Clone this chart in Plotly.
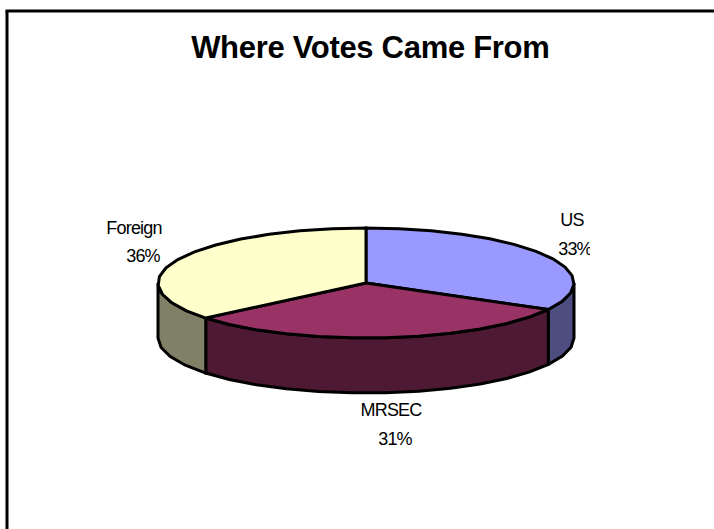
import math
import plotly.graph_objects as go

# Vote shares by source, clockwise from twelve o'clock
categories = ["US", "MRSEC", "Foreign"]
shares = [33, 31, 36]
top_colors = ["#9999FF", "#993366", "#FFFFCC"]
side_colors = ["#4D4D80", "#4D1933", "#808066"]

# Tilted pie geometry, in page pixels
CX, CY, RX, RY, DEPTH = 366, 283, 208, 55, 55
EDGE = dict(color="black", width=3)


def rim(deg, drop=0):
    rad = math.radians(deg)
    return CX + RX * math.sin(rad), CY - RY * math.cos(rad) + drop


def arc(a, b, drop=0):
    n = max(2, int(abs(b - a) / 9) + 1)
    return [rim(a + (b - a) * i / (n - 1), drop) for i in range(n)]


def polygon(fig, points, color):
    fig.add_trace(go.Scatter(
        x=[p[0] for p in points], y=[p[1] for p in points],
        mode="lines", fill="toself", fillcolor=color,
        line=EDGE, hoverinfo="skip", showlegend=False,
    ))


fig = go.Figure()

total = sum(shares)
spans = []
start = 0.0
for value in shares:
    end = start + 360.0 * value / total
    spans.append((start, end))
    start = end

# Front wall: only the part of the rim facing the viewer (90 to 270 degrees)
for (a, b), color in zip(spans, side_colors):
    lo, hi = max(a, 90), min(b, 270)
    if lo < hi:
        polygon(fig, arc(lo, hi) + arc(hi, lo, DEPTH) + [rim(lo)], color)

# Top face
for (a, b), color in zip(spans, top_colors):
    polygon(fig, [(CX, CY)] + arc(a, b) + [(CX, CY)], color)

# Slice labels: name above, percentage below
name_x = [572, 391, 134]
name_y = [221, 411, 229]
pct_x = [575, 395, 143]
pct_y = [250, 440, 257]
fig.add_trace(go.Scatter(
    x=name_x + pct_x,
    y=name_y + pct_y,
    text=categories + [f"{v}%" for v in shares],
    mode="text", textposition="middle center",
    textfont=dict(family="Liberation Sans", size=18, color="black"),
    hoverinfo="skip", showlegend=False,
))

fig.update_layout(
    width=714, height=529,
    margin=dict(l=0, r=0, t=0, b=0),
    paper_bgcolor="white", plot_bgcolor="white",
    xaxis=dict(range=[0, 714], visible=False, fixedrange=True),
    yaxis=dict(range=[529, 0], visible=False, fixedrange=True),
    annotations=[dict(
        text="<b>Where Votes Came From</b>", x=370, y=47,
        xref="x", yref="y", showarrow=False,
        font=dict(family="Liberation Sans", size=31, color="black"),
    )],
    shapes=[
        # Chart frame runs off the right and bottom of the page
        dict(type="line", x0=7, x1=7, y0=11, y1=529, line=dict(color="black", width=3)),
        dict(type="line", x0=5.5, x1=714, y0=11, y1=11, line=dict(color="black", width=3)),
        # The label box ends here, trimming the US percentage
        dict(type="rect", x0=590, x1=610, y0=236, y1=264, layer="above",
             fillcolor="white", line=dict(width=0)),
    ],
)

tighten = """
document.querySelectorAll('.textpoint text').forEach(t => t.style.letterSpacing = '-0.8px');
document.querySelectorAll('.annotation-text').forEach(t => t.style.letterSpacing = '-0.3px');
"""
fig.write_html("out.html", post_script=tighten)
